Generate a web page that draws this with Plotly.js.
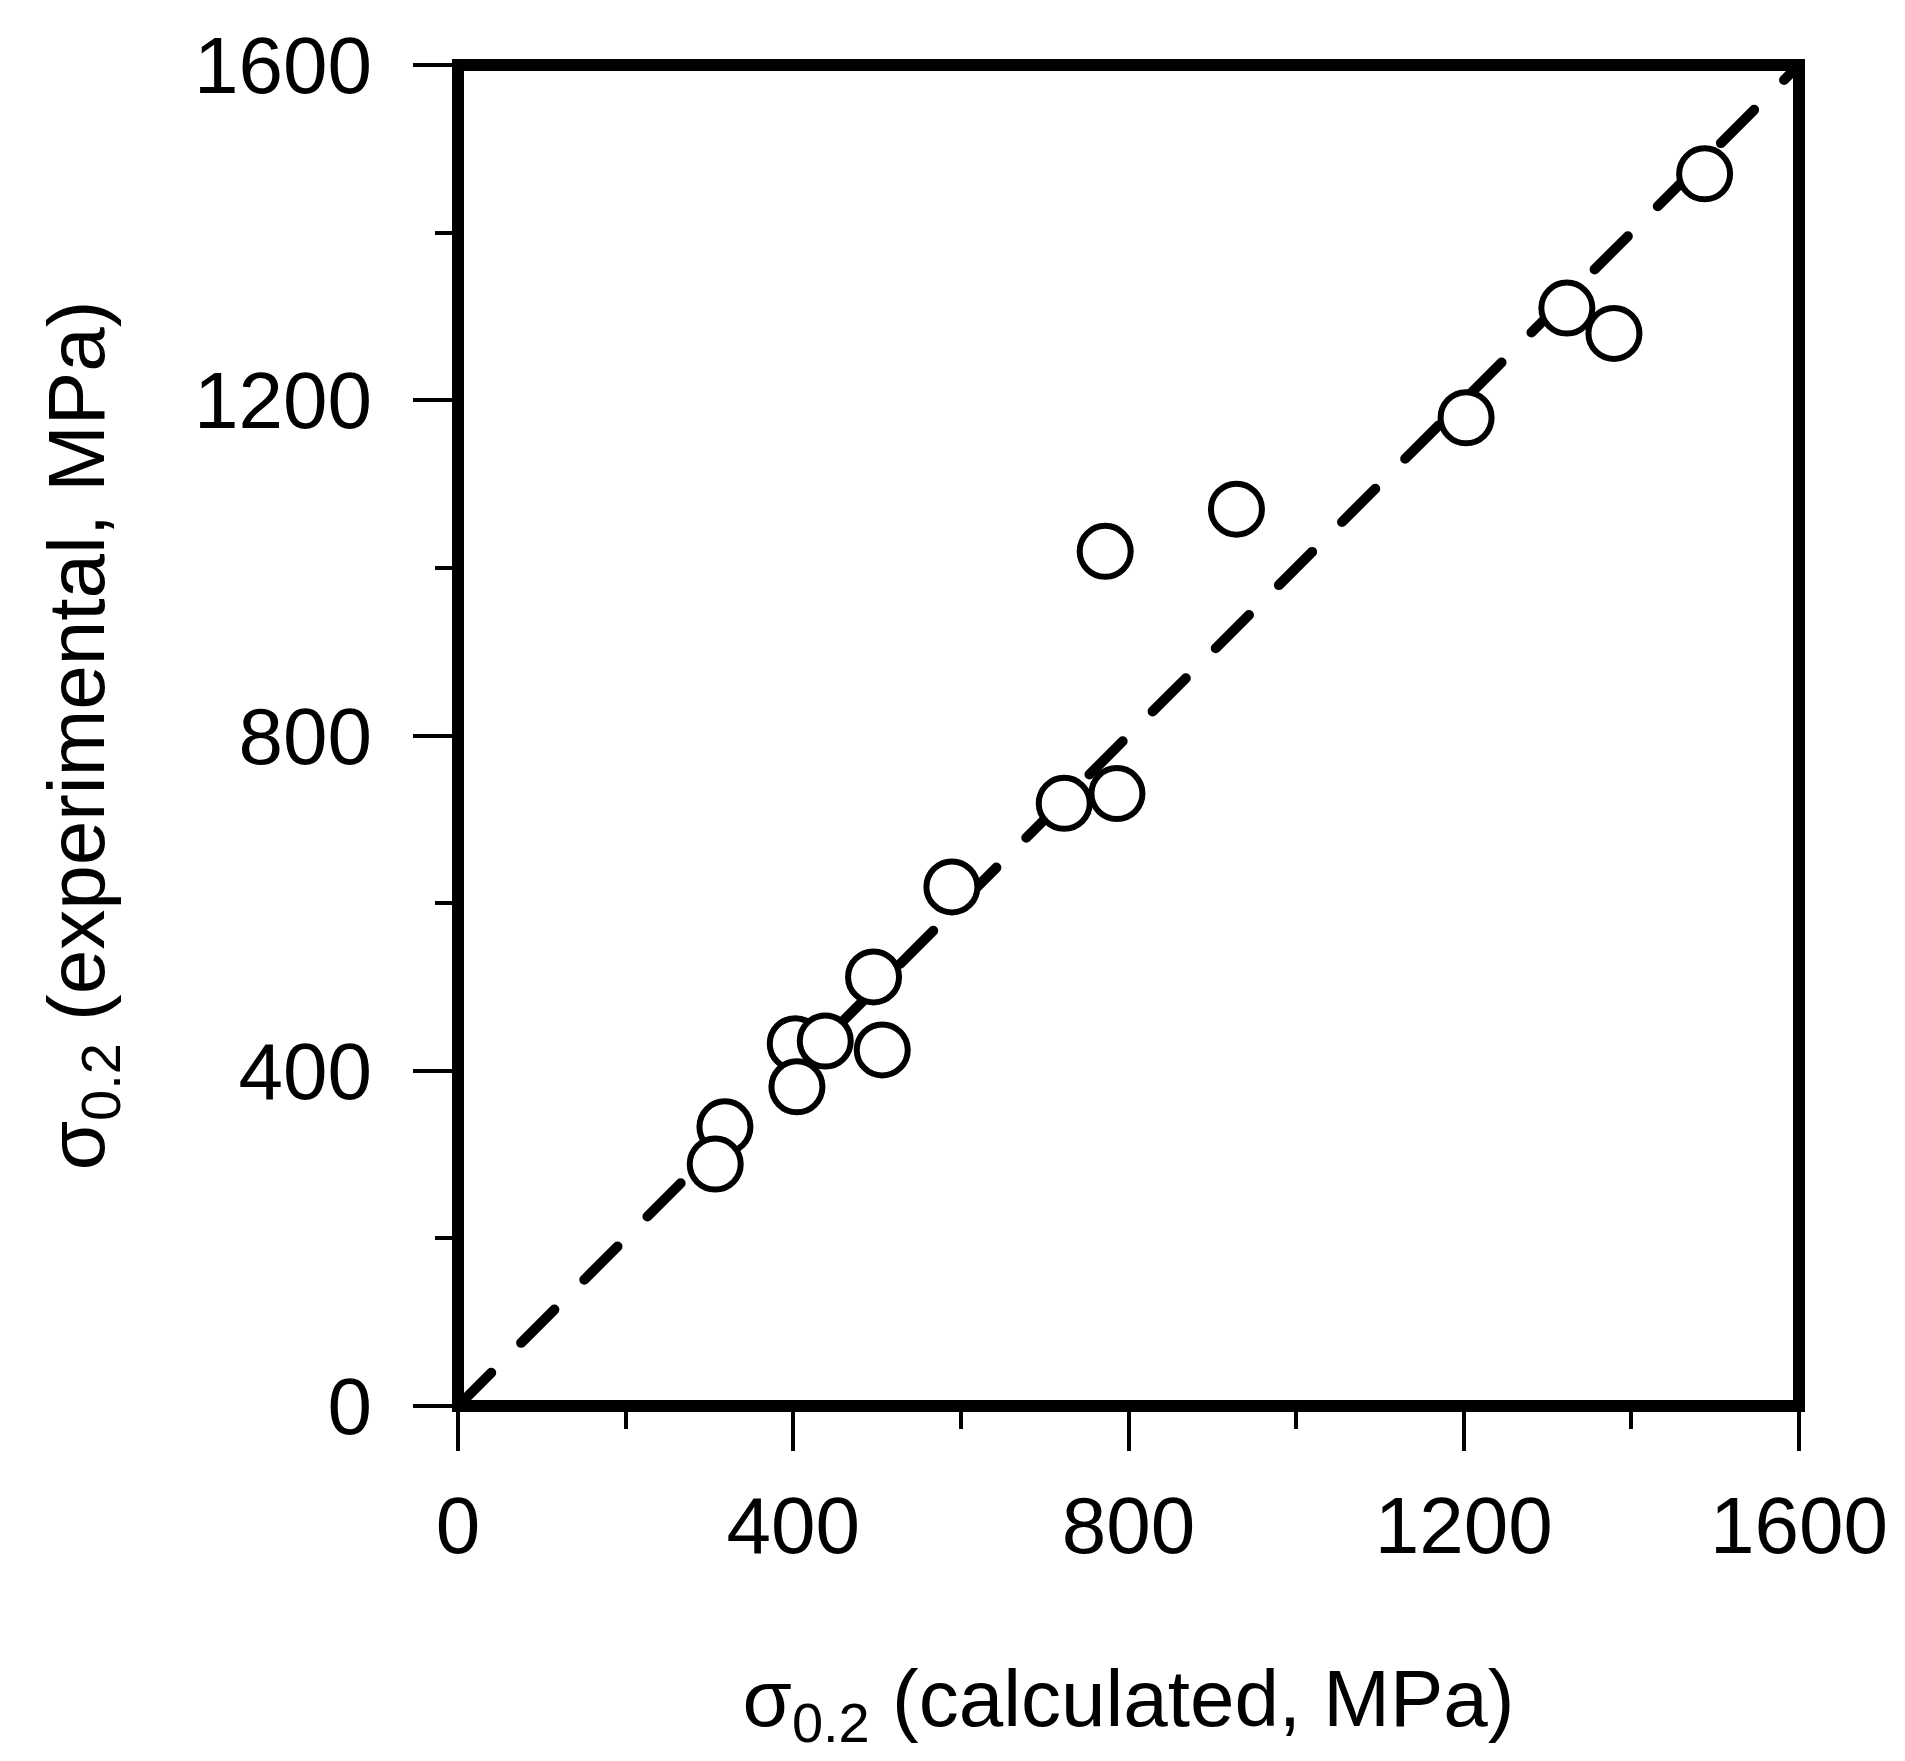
<!DOCTYPE html>
<html>
<head>
<meta charset="utf-8">
<script src="https://cdn.plot.ly/plotly-3.0.1.min.js"></script>
<style>html,body{margin:0;padding:0;background:#fff;}</style>
</head>
<body>
<div id="chart" style="width:1905px;height:1761px;"></div>
<script>
// Data
const calculated   = [318.5, 306.9, 402.4, 404.4, 438.2, 506.2, 495.8, 589.3, 786.2, 723.3, 772.2, 928.8, 1202.8, 1379.2, 1323.0, 1487.4];
const experimental = [333.1, 288.6, 432.3, 380.8, 435.5, 424.9, 512.0, 619.3, 730.7, 719.1, 1019.7, 1070.0, 1179.1, 1279.7, 1310.0, 1470.1];
const diagonalX = [0, 1600];
const diagonalY = [0, 1600];
const tickValues = [0, 400, 800, 1200, 1600];
const tickLabels = ['0', '400', '800', '1200', '1600'];
const minorTickValues = [200, 600, 1000, 1400];
const xTitle = 'σ<sub>0.2</sub> (calculated, MPa)';
const yTitle = 'σ<sub>0.2</sub> (experimental, MPa)';

const FONT = 'Liberation Sans, Arial, sans-serif';

const traces = [
  {
    x: diagonalX, y: diagonalY, mode: 'lines', type: 'scatter',
    line: {color: '#000', width: 10, dash: '47px,42.3px'},
    hoverinfo: 'skip', showlegend: false
  },
  {
    x: calculated, y: experimental, mode: 'markers', type: 'scatter',
    marker: {symbol: 'circle', size: 51, color: '#fff', line: {color: '#000', width: 6}},
    showlegend: false
  }
];

function axis(title) {
  return {
    range: [0, 1600],
    tickvals: tickValues,
    ticktext: tickLabels,
    ticks: 'outside',
    ticklen: 44,
    tickwidth: 4,
    tickcolor: '#000',
    minor: {tickvals: minorTickValues, ticks: 'outside', ticklen: 22, tickwidth: 4, tickcolor: '#000'},
    showline: false,
    showgrid: false,
    zeroline: false,
    tickfont: {family: FONT, size: 80, color: '#000'},
    title: {text: title, font: {family: FONT, size: 80, color: '#000'}},
    automargin: false,
    fixedrange: true
  };
}

const xa = axis(xTitle);
xa.ticklabelstandoff = 6;
xa.title.standoff = 100;
const ya = axis(yTitle);
ya.ticklabelstandoff = 25;
ya.title.standoff = 63;

const layout = {
  width: 1905, height: 1761,
  margin: {l: 458, r: 106, t: 65, b: 355, pad: 0},
  paper_bgcolor: '#fff', plot_bgcolor: '#fff',
  xaxis: xa, yaxis: ya,
  showlegend: false,
  shapes: [
    {type: 'rect', xref: 'paper', yref: 'paper', x0: 0, x1: 1, y0: 0, y1: 1,
     line: {color: '#000', width: 12}, fillcolor: 'rgba(0,0,0,0)', layer: 'above'}
  ]
};

Plotly.newPlot('chart', traces, layout, {staticPlot: true, displayModeBar: false}).then(function () {
  document.querySelectorAll('.scatterlayer .js-line').forEach(function (p) {
    p.style.strokeLinecap = 'round';
  });
});
</script>
</body>
</html>
